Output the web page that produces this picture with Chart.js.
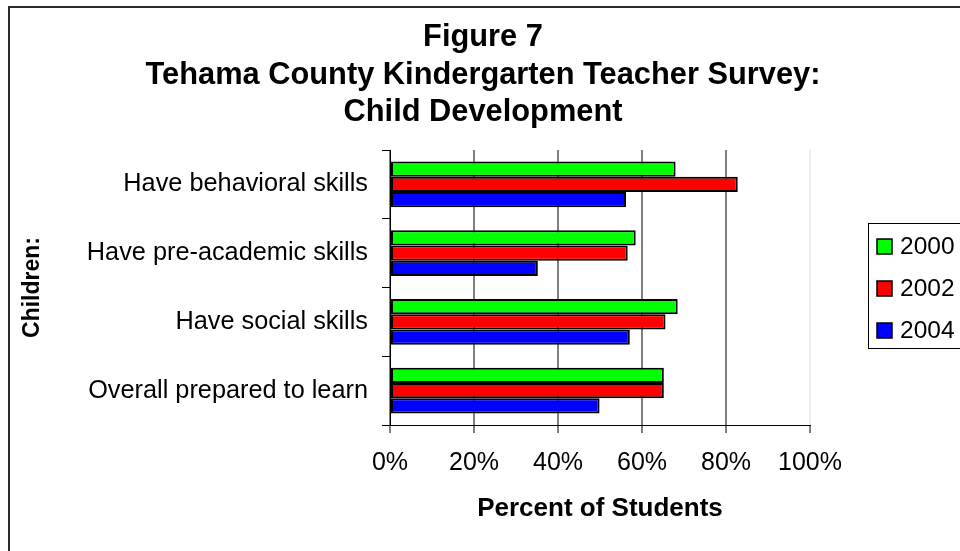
<!DOCTYPE html>
<html>
<head>
<meta charset="utf-8">
<script src="https://cdn.jsdelivr.net/npm/chart.js@4.4.1/dist/chart.umd.min.js"></script>
<style>
  html, body { margin: 0; padding: 0; background: #ffffff; }
  #wrap { width: 960px; height: 551px; }
</style>
</head>
<body>
<div id="wrap"><canvas id="chart" width="960" height="551"></canvas></div>
<script>
// Survey categories (rows) and results per survey year, in percent of students
const categories = [
  'Have behavioral skills',
  'Have pre-academic skills',
  'Have social skills',
  'Overall prepared to learn'
];
const years = ['2000', '2002', '2004'];
const values2000 = [68.0, 58.5, 68.5, 65.2];
const values2002 = [82.8, 56.6, 65.6, 65.2];
const values2004 = [56.2, 35.2, 57.1, 49.9];
const xTickValues = [0, 20, 40, 60, 80, 100];
const titleLines = [
  'Figure 7',
  'Tehama County Kindergarten Teacher Survey:',
  'Child Development'
];
const xAxisTitle = 'Percent of Students';
const yAxisTitle = 'Children:';

const FONT = '"Liberation Sans", Arial, sans-serif';
const seriesColors = ['#00ff00', '#ff0000', '#0000ff'];

// Frame, multi-line heading and boxed legend
const figureDecor = {
  id: 'figureDecor',
  beforeDraw(chart) {
    const ctx = chart.ctx;
    ctx.save();
    ctx.strokeStyle = '#2a2a2a';
    ctx.lineWidth = 2;
    ctx.beginPath();
    ctx.moveTo(9, 551);
    ctx.lineTo(9, 7);
    ctx.lineTo(960, 7);
    ctx.stroke();
    ctx.restore();
  },
  afterDraw(chart) {
    const ctx = chart.ctx;
    ctx.save();
    // heading
    ctx.fillStyle = '#000';
    ctx.textAlign = 'center';
    ctx.textBaseline = 'middle';
    ctx.font = 'bold 30.8px ' + FONT;
    const lineY = [38, 75.5, 113];
    titleLines.forEach((t, i) => ctx.fillText(t, 483, lineY[i]));

    // legend box
    ctx.strokeStyle = '#000';
    ctx.lineWidth = 1;
    ctx.fillStyle = '#fff';
    ctx.fillRect(868.5, 223.5, 100, 125);
    ctx.strokeRect(868.5, 223.5, 100, 125);
    ctx.font = '24.5px ' + FONT;
    ctx.textAlign = 'left';
    chart.data.datasets.forEach((ds, i) => {
      const cy = 246.5 + i * 42;
      ctx.fillStyle = ds.backgroundColor;
      ctx.fillRect(877, cy - 7.5, 15, 15);
      ctx.strokeStyle = '#000';
      ctx.lineWidth = 1.5;
      ctx.strokeRect(877, cy - 7.5, 15, 15);
      ctx.fillStyle = '#000';
      ctx.fillText(ds.label, 900, cy + 1);
    });
    ctx.restore();
  }
};

const datasets = [values2000, values2002, values2004].map((vals, i) => ({
  label: years[i],
  data: vals,
  backgroundColor: seriesColors[i],
  borderColor: '#000',
  borderWidth: 2,
  borderSkipped: false,
  categoryPercentage: 0.665,
  barPercentage: 1.0
}));

new Chart(document.getElementById('chart'), {
  type: 'bar',
  data: { labels: categories, datasets },
  plugins: [figureDecor],
  options: {
    indexAxis: 'y',
    responsive: false,
    animation: false,
    devicePixelRatio: 1,
    layout: { padding: { left: 10, right: 150, top: 150, bottom: 0 } },
    plugins: {
      legend: { display: false },
      title: { display: false },
      tooltip: { enabled: false }
    },
    scales: {
      x: {
        min: 0,
        max: 100,
        afterBuildTicks(scale) {
          scale.ticks = xTickValues.map(v => ({ value: v }));
        },
        afterFit(scale) { scale.height = 126; },
        ticks: {
          callback: v => v + '%',
          color: '#000',
          font: { family: FONT, size: 25 },
          padding: 15,
          maxRotation: 0
        },
        grid: {
          color: ctx => (ctx.tick && ctx.tick.value === 100) ? '#ececec' : '#808080',
          lineWidth: 2,
          tickColor: '#000',
          tickWidth: 1,
          tickLength: 8
        },
        border: { display: true, color: '#000', width: 1 },
        title: {
          display: true,
          text: xAxisTitle,
          color: '#000',
          font: { family: FONT, size: 26, weight: 'bold' },
          padding: { top: 0, bottom: 27 }
        }
      },
      y: {
        afterFit(scale) { scale.width = 380; },
        ticks: {
          color: '#000',
          font: { family: FONT, size: 25.3 },
          padding: 14
        },
        grid: {
          drawOnChartArea: false,
          drawTicks: true,
          tickColor: '#000',
          tickWidth: 1,
          tickLength: 8,
          offset: true
        },
        border: { display: true, color: '#000', width: 1 },
        title: {
          display: true,
          text: yAxisTitle,
          color: '#000',
          font: { family: FONT, size: 23, weight: 'bold' },
          padding: { top: 9, bottom: 0 }
        }
      }
    }
  }
});
</script>
</body>
</html>
